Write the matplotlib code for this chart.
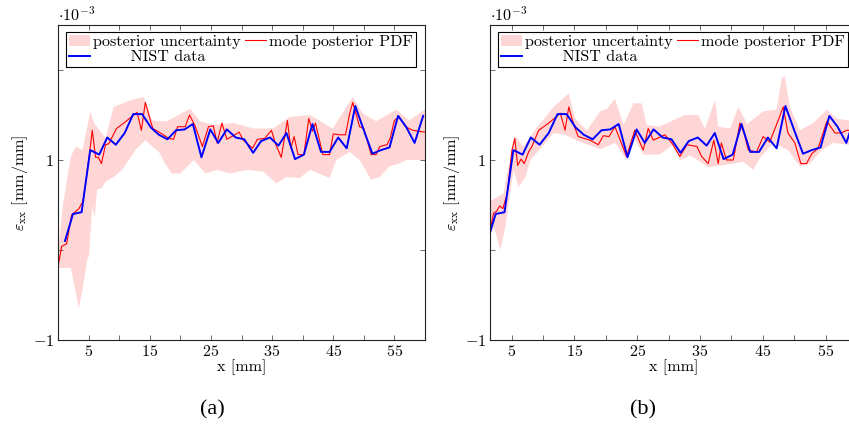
import numpy as np
import matplotlib
matplotlib.use("Agg")
import matplotlib.pyplot as plt

plt.rcParams['font.family'] = 'serif'
plt.rcParams['font.serif'] = ['cmr10']
plt.rcParams['mathtext.fontset'] = 'cm'
plt.rcParams['axes.formatter.use_mathtext'] = True

# NIST data (same in both panels), strain in 1e-3 mm/mm
nist_x = [1.14, 2.45, 3.86, 5.27, 6.74, 8.05, 9.45, 10.9, 12.3, 13.75, 15.2, 16.5, 17.9, 19.3,
          20.7, 22.05, 23.45, 24.9, 26.2, 27.6, 29.05, 30.45, 31.9, 33.2, 34.65, 36.05, 37.35,
          38.75, 40.2, 41.6, 43.0, 44.4, 45.8, 47.2, 48.6, 50.0, 51.4, 52.8, 54.2, 55.6, 56.9,
          58.3, 59.7]
nist_y = [0.10, 0.40, 0.42, 1.11, 1.06, 1.25, 1.17, 1.30, 1.51, 1.51, 1.36, 1.28, 1.23, 1.33,
          1.34, 1.40, 1.03, 1.34, 1.19, 1.34, 1.25, 1.23, 1.08, 1.21, 1.25, 1.16, 1.30,
          1.01, 1.06, 1.40, 1.09, 1.09, 1.25, 1.13, 1.60, 1.33, 1.07, 1.11, 1.14, 1.49, 1.37,
          1.19, 1.49]

# panel (a): mode of posterior PDF
red_a_x = [0.16, 0.6, 1.42, 2.23, 3.42, 4.07, 4.6, 5.2, 5.6, 6.14, 6.6, 7.1, 7.77, 8.3, 9.56,
           10.75, 11.84, 12.93, 13.63, 14.28, 14.93, 15.5, 17.0, 18.1, 18.9, 19.55, 20.8, 21.5,
           22.4, 23.6, 24.6, 25.4, 26.0, 26.8, 27.6, 28.9, 29.6, 30.3, 31.8, 32.6, 33.8, 34.9,
           35.5, 36.5, 37.5, 38.06, 38.6, 39.25, 40.2, 41.0, 41.6, 42.1, 43.3, 44.4, 45.0, 46.0,
           47.0, 47.7, 48.2, 49.3, 50.0, 51.2, 52.0, 52.6, 53.8, 54.3, 55.0, 55.8, 56.8, 58.0, 59.9]
red_a_y = [-0.13, 0.04, 0.07, 0.39, 0.46, 0.54, 0.78, 1.10, 1.33, 1.03, 1.03, 0.96, 1.17, 1.18, 1.35,
           1.41, 1.47, 1.53, 1.33, 1.64, 1.48, 1.35, 1.29, 1.24, 1.23, 1.37, 1.37, 1.50,
           1.38, 1.15, 1.37, 1.38, 1.19, 1.41, 1.23, 1.28, 1.31, 1.22, 1.13, 1.23, 1.24, 1.33,
           1.19, 1.03, 1.44, 1.13, 1.26, 1.06, 1.06, 1.46, 1.32, 1.41, 1.06, 1.06, 1.29, 1.28,
           1.28, 1.52, 1.64, 1.37, 1.35, 1.06, 1.06, 1.15, 1.17, 1.24, 1.44, 1.48, 1.37, 1.33, 1.31]

# panel (a): uncertainty band
up_a_x = [0.0, 0.8, 2.1, 2.9, 4.0, 5.3, 5.9, 7.8, 9.1, 12.1, 14.0, 15.4, 16.5, 17.8, 21.6, 23.2,
          25.4, 28.7, 31.9, 35.2, 37.9, 41.2, 44.9, 48.2, 49.8, 52.0, 55.3, 57.4, 60.0]
up_a_y = [-0.05, 0.5, 1.04, 1.15, 1.11, 1.54, 1.41, 1.24, 1.59, 1.67, 1.70, 1.44, 1.43, 1.43, 1.57, 1.43,
          1.39, 1.41, 1.35, 1.35, 1.48, 1.50, 1.35, 1.70, 1.52, 1.43, 1.56, 1.44, 1.56]
lo_a_x = [0.0, 1.5, 2.1, 3.42, 4.0, 4.8, 5.05, 5.6, 6.0, 6.4, 7.2, 7.8, 9.1, 10.5, 12.65, 14.3, 15.4,
          16.5, 17.5, 18.6, 20.0, 22.2, 24.1, 26.0, 28.1, 30.9, 33.6, 35.7, 37.35, 39.5, 41.2,
          44.4, 45.5, 47.7, 49.3, 51.2, 52.6, 54.2, 55.8, 56.9, 59.3, 60.0]
lo_a_y = [-0.2, -0.2, -0.2, -0.65, -0.44, -0.1, -0.07, 0.48, 0.37, 0.67, 0.69, 0.76, 0.81, 0.89, 1.11, 1.22, 1.15,
          1.09, 0.96, 0.85, 0.85, 1.0, 0.85, 0.89, 0.85, 0.89, 0.87, 0.74, 0.81, 0.80, 0.89,
          0.80, 1.0, 1.09, 1.0, 0.78, 0.81, 0.93, 0.96, 1.0, 1.0, 0.98]

# panel (b): mode of posterior PDF
red_b_x = [1.34, 2.13, 2.6, 3.09, 3.6, 4.3, 5.05, 5.5, 5.95, 6.5, 7.0, 7.7, 8.23, 9.3, 10.9,
           12.75, 13.5, 14.1, 14.8, 15.6, 17.5, 18.8, 19.6, 20.5, 21.45, 23.3, 24.6, 25.95,
           26.75, 27.55, 29.4, 30.5, 31.8, 32.9, 34.5, 35.25, 36.3, 37.2, 37.9, 38.4, 39.2,
           40.3, 41.35, 42.0, 42.7, 44.0, 45.05, 46.1, 47.45, 48.25, 49.0, 50.1, 51.05, 51.95,
           52.8, 53.8, 55.2, 56.5, 57.5, 58.35, 59.0]
red_b_y = [0.15, 0.41, 0.43, 0.49, 0.46, 0.63, 1.11, 1.24, 0.94, 1.01, 0.96, 1.09, 1.15, 1.33, 1.41,
           1.52, 1.33, 1.59, 1.41, 1.26, 1.22, 1.17, 1.27, 1.26, 1.37, 1.04, 1.33, 1.11,
           1.35, 1.22, 1.28, 1.19, 1.04, 1.17, 1.15, 1.04, 0.96, 1.22, 0.96, 1.19, 1.0,
           1.0, 1.41, 1.30, 1.11, 1.09, 1.26, 1.20, 1.44, 1.59, 1.30, 1.19, 0.96, 0.96,
           1.07, 1.13, 1.43, 1.30, 1.30, 1.33, 1.33]

# panel (b): uncertainty band
up_b_x = [1.1, 2.7, 3.7, 5.5, 6.85, 9.0, 11.7, 14.1, 15.1, 17.0, 19.1, 20.2, 21.45, 22.8, 24.4,
          25.7, 26.5, 28.5, 30.7, 32.6, 34.7, 35.8, 37.4, 37.9, 39.8, 41.1, 42.5, 45.05, 47.2,
          48.0, 48.5, 49.3, 50.9, 53.0, 55.2, 56.75, 58.6, 60.0]
up_b_y = [0.52, 0.59, 0.63, 1.27, 1.15, 1.36, 1.59, 1.74, 1.46, 1.33, 1.54, 1.57, 1.68, 1.39, 1.63,
          1.63, 1.39, 1.37, 1.44, 1.50, 1.50, 1.35, 1.67, 1.37, 1.35, 1.59, 1.40, 1.54, 1.56,
          1.91, 1.93, 1.59, 1.33, 1.41, 1.56, 1.46, 1.44, 1.44]
lo_b_x = [1.1, 2.2, 3.2, 4.0, 5.3, 6.1, 7.2, 8.0, 11.7, 13.5, 15.9, 19.1, 21.5, 23.3, 24.4, 26.0,
          28.6, 30.7, 31.8, 33.5, 36.3, 39.5, 41.9, 43.5, 44.5, 46.7, 49.0, 50.9, 52.5, 54.4,
          56.2, 58.6, 60.0]
lo_b_y = [0.10, 0.25, 0.0, 0.26, 0.89, 0.70, 0.81, 1.0, 1.30, 1.28, 1.20, 1.12, 1.19, 1.00, 1.26, 1.06,
          1.06, 1.17, 1.00, 1.05, 0.92, 0.95, 0.98, 0.89, 1.02, 1.19, 1.11, 0.93, 0.96, 1.11,
          1.19, 1.17, 1.17]

band_col = '#ffd6d6'
fs = 11.6

fig = plt.figure(figsize=(8.49, 4.28), dpi=100)
W, H = 849, 428
ax_a = fig.add_axes([58 / W, 1 - 340 / H, 367 / W, 315 / H])
ax_b = fig.add_axes([490 / W, 1 - 340 / H, 367 / W, 315 / H])

panels = [
    (ax_a, red_a_x, red_a_y, up_a_x, up_a_y, lo_a_x, lo_a_y, (0, 60)),
    (ax_b, red_b_x, red_b_y, up_b_x, up_b_y, lo_b_x, lo_b_y, (1.55, 60)),
]

for ax, rx, ry, ux, uy, lx, ly, xlim in panels:
    # band polygon: upper edge then lower edge backwards
    px = np.concatenate([ux, lx[::-1]])
    py = np.concatenate([uy, ly[::-1]])
    band = ax.fill(px, py, color=band_col, lw=0, label='posterior uncertainty')[0]
    red, = ax.plot(rx, ry, color='red', lw=0.8, label='mode posterior PDF')
    blue, = ax.plot(nist_x, nist_y, color='blue', lw=1.4, label='       NIST data')

    ax.set_xlim(*xlim)
    ax.set_ylim(-1, 2.5)
    ax.set_xticks([5, 15, 25, 35, 45, 55])
    ax.set_xticks([10, 20, 30, 40, 50, 60], minor=True)
    ax.set_xticklabels(['$%d$' % v for v in [5, 15, 25, 35, 45, 55]])
    ax.set_yticks([-1, 0, 1, 2])
    ax.set_yticklabels(['$-1$', '', '$1$', ''])
    ax.tick_params(which='both', direction='in', top=True, right=True, length=3.5,
                   width=0.6, color='#555555', labelsize=fs, pad=3)
    for s in ax.spines.values():
        s.set_linewidth(0.8)
        s.set_color('#222222')
    ax.set_xlabel('x [mm]', fontsize=fs, labelpad=0)
    ax.set_ylabel(r'$\varepsilon_{\rm xx}$ [mm/mm]', fontsize=fs, labelpad=2)
    ax.text(0.0, 1.003, r'$\cdot 10^{-3}$', transform=ax.transAxes, fontsize=fs,
            ha='left', va='bottom')

    leg = ax.legend(handles=[band, blue, red], ncol=2, loc='upper left',
                    bbox_to_anchor=(0.021, 0.979), borderaxespad=0, fontsize=fs,
                    fancybox=False, framealpha=1, edgecolor='black',
                    handlelength=1.3, handletextpad=0.2, columnspacing=0.25,
                    borderpad=0.2, labelspacing=0.05)
    leg.get_frame().set_linewidth(0.8)

fig.text(212 / W, 1 - 410 / H, '(a)', fontsize=16, family='Liberation Serif',
         ha='center', va='center')
fig.text(643 / W, 1 - 410 / H, '(b)', fontsize=16, family='Liberation Serif',
         ha='center', va='center')

fig.savefig('out.png', dpi=100)
